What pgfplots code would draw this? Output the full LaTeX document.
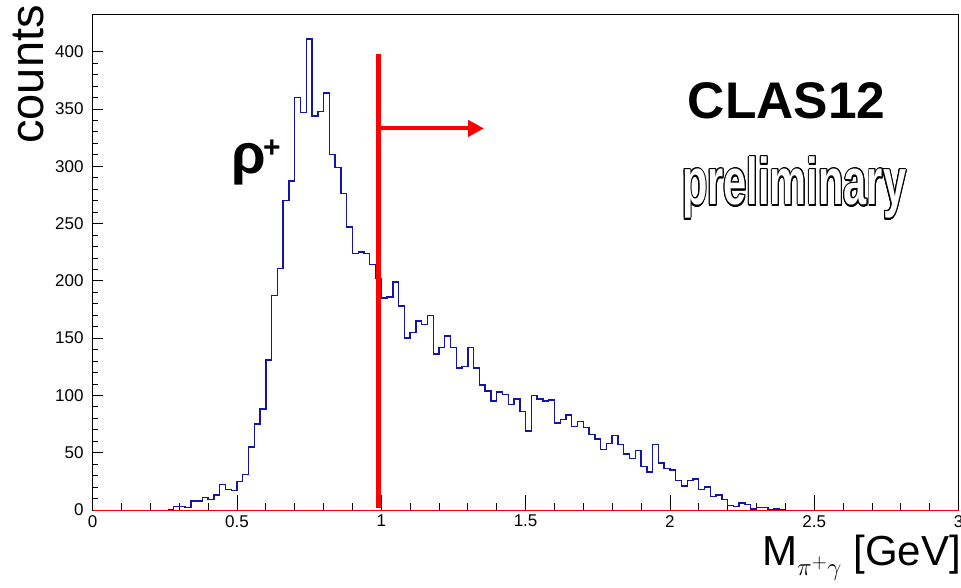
\documentclass[border=0pt]{standalone}
\usepackage{pgfplots}
\pgfplotsset{compat=1.18}
\usepackage{pgfplotstable}
\usepackage{fontspec}
\setmainfont{Liberation Sans}
\usepackage[copies]{contour}
\usetikzlibrary{arrows.meta}
\definecolor{rootblue}{RGB}{20,20,170}

\pgfplotstableread{
x y
0.26 0
0.28 3
0.30 3
0.32 2
0.34 8
0.36 8
0.38 11
0.40 9
0.42 13
0.44 22
0.46 18
0.48 17
0.50 25
0.52 31
0.54 55
0.56 75
0.58 88
0.60 131
0.62 187
0.64 211
0.66 270
0.68 287
0.70 360
0.72 347
0.74 411
0.76 344
0.78 348
0.80 364
0.82 310
0.84 299
0.86 276
0.88 247
0.90 224
0.92 225
0.94 224
0.96 214
0.98 202
1.00 185
1.02 186
1.04 199
1.06 178
1.08 150
1.10 155
1.12 165
1.14 162
1.16 170
1.18 136
1.20 142
1.22 152
1.24 142
1.26 124
1.28 125
1.30 142
1.32 124
1.34 109
1.36 104
1.38 95
1.40 103
1.42 101
1.44 92
1.46 97
1.48 86
1.50 69
1.52 100
1.54 97
1.56 95
1.58 96
1.60 76
1.62 79
1.64 83
1.66 73
1.68 77
1.70 72
1.72 66
1.74 62
1.76 53
1.78 58
1.80 65
1.82 57
1.84 49
1.86 45
1.88 52
1.90 38
1.92 33
1.94 57
1.96 41
1.98 36
2.00 35
2.02 26
2.04 21
2.06 26
2.08 27
2.10 18
2.12 20
2.14 12
2.16 13
2.18 9
2.20 4
2.22 3
2.24 6
2.26 5
2.28 1
2.30 2
2.32 2
2.34 0
2.36 1
2.38 0
2.40 0
}\histdata

\begin{document}
\begin{tikzpicture}[x=1pt,y=1pt]
\path[use as bounding box] (0,0) rectangle (961,587);
\begin{axis}[
  at={(92.7pt,77pt)}, anchor=south west,
  scale only axis, width=865.8pt, height=495pt,
  xmin=0, xmax=3, ymin=0, ymax=432,
  clip=false,
  axis line style={line width=1pt, black},
  xtick={0,0.5,1,1.5,2,2.5,3},
  xticklabels={0,0.5,1,1.5,2,2.5,3},
  ytick={0,50,100,150,200,250,300,350,400},
  minor x tick num=4, minor y tick num=4,
  tick align=inside, xtick pos=bottom, ytick pos=left,
  xtick style={black, line width=0.8pt, /pgfplots/major tick length=15pt, /pgfplots/minor tick length=7.5pt},
  ytick style={black, line width=0.8pt, /pgfplots/major tick length=10pt, /pgfplots/minor tick length=5pt},
  tick label style={font=\fontsize{17}{17}\selectfont},
  /pgf/number format/assume math mode=true,
  xticklabel style={anchor=north, inner sep=0pt, yshift=-5pt},
  yticklabel style={anchor=east, inner sep=0pt, xshift=-9pt},
]
\addplot[const plot, rootblue, line width=1.4pt] table[x=x, y=y] {\histdata};
\addplot[red, line width=0.8pt] coordinates {(0,0) (3,0)};
\addplot[red, line width=5.5pt] coordinates {(0.99,2) (0.99,398)};
\addplot[red, line width=4pt, -{Triangle[length=16pt,width=16pt]}] coordinates {(0.99,333) (1.356,333)};
\end{axis}
\node[anchor=base east, rotate=90, inner sep=0pt, font=\fontsize{47}{47}\selectfont] at (43,582) {counts};
\node[anchor=base east, inner sep=0pt, font=\fontsize{42}{42}\selectfont] at (961,22) {M$_{\pi^{+}\gamma}$ [GeV]};
\node[anchor=base west, inner sep=0pt, font=\fontsize{56}{56}\selectfont\bfseries] at (231,413) {ρ};
\node[inner sep=0pt, font=\fontsize{30}{30}\selectfont\bfseries] at (272,438) {+};
\node[anchor=base, inner sep=0pt, font=\fontsize{51.5}{51.5}\selectfont\bfseries] at (786.7,468.7) {CLAS12};
\node[anchor=base, inner sep=0pt, font=\fontsize{66}{66}\selectfont\bfseries] at (794.2,382) {\scalebox{0.63}[1]{\contourlength{1.5pt}\color{white}\contour{black}{preliminary}}};
\end{tikzpicture}
\end{document}
